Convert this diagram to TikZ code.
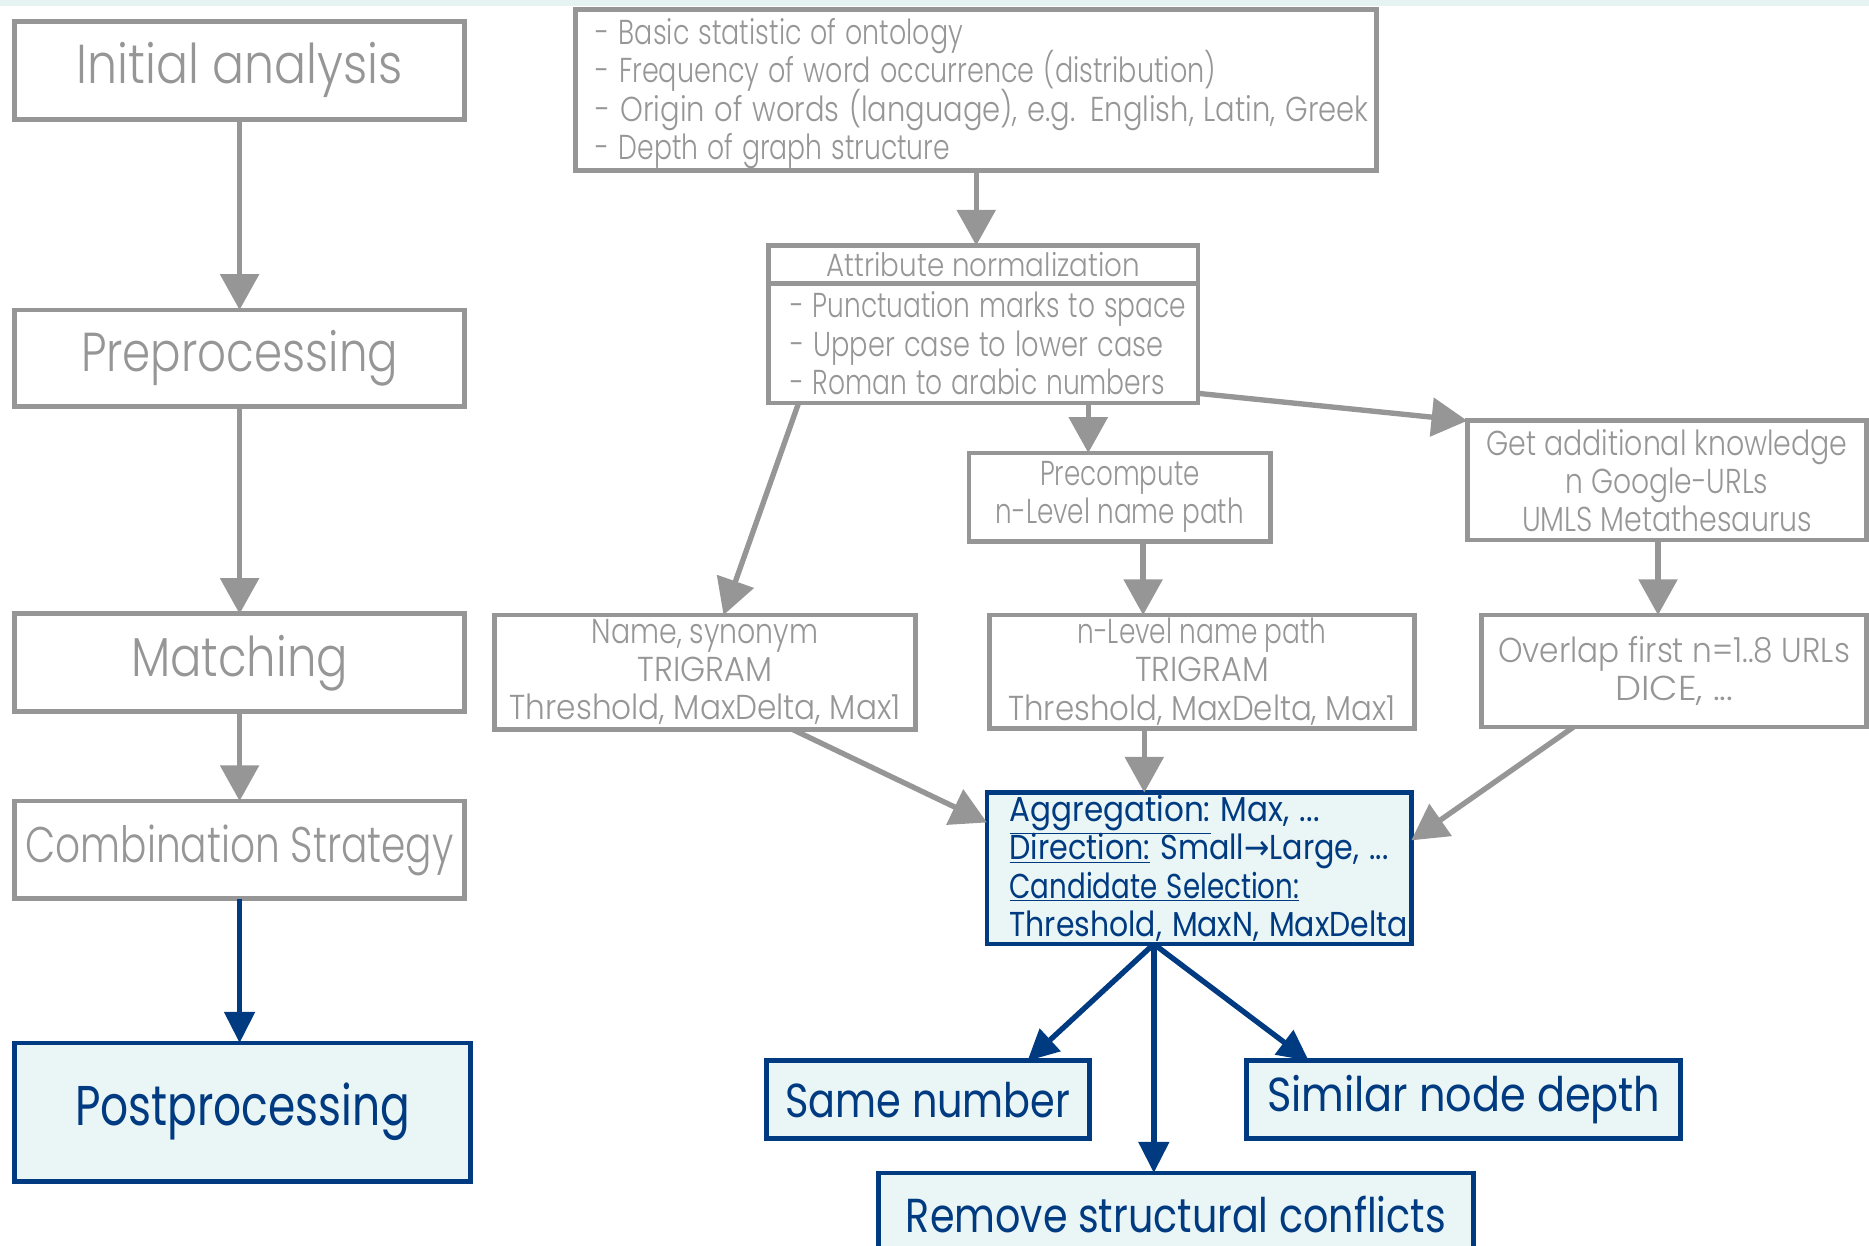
\documentclass[tikz,border=0pt]{standalone}
\usepackage{fontspec}
\setmainfont{Poppins}
\newfontfamily\lt{Poppins}[UprightFont=* Light]
\newfontfamily\djv{DejaVu Sans}
\usetikzlibrary{arrows.meta}
\definecolor{gr}{HTML}{969696}
\definecolor{nb}{HTML}{003A80}
\definecolor{lf}{HTML}{EAF5F5}
\definecolor{band}{HTML}{E6F3F3}
\newcommand{\fw}[2]{\resizebox{#1}{\height}{#2}}
\newcommand{\tls}{\baselineskip=32pt\lineskiplimit=-30pt\relax}
\hbadness=10000 \hfuzz=100pt
\tikzset{
  gbox/.style={draw=gr, line width=4pt, text=gr, inner sep=0pt, outer sep=0pt, align=center},
  bbox/.style={draw=nb, line width=4pt, fill=lf, text=nb, inner sep=0pt, outer sep=0pt, align=center},
  garr/.style={draw=gr, line width=4.5pt, -{Triangle[length=30pt,width=32pt]}},
  barr/.style={draw=nb, line width=4.5pt, -{Triangle[length=26pt,width=25pt]}},
  big/.style={font=\lt\fontsize{46}{48}\selectfont},
  med/.style={font=\lt\fontsize{29}{32}\selectfont},
  bmed/.style={font=\fontsize{40}{44}\selectfont},
}
\begin{document}
\begin{tikzpicture}[x=1pt,y=-1pt]
\useasboundingbox (0,0) rectangle (1568,1045);
\clip (0,0) rectangle (1568,1045);
\fill[band] (0,0) rectangle (1568,5);
% left column
\node[gbox,big,minimum width=378pt,minimum height=82pt] (ia) at (201,59) {\fw{273pt}{Initial analysis}};
\node[gbox,big,minimum width=378pt,minimum height=81pt] (pp) at (201,300.5) {\fw{266pt}{Preprocessing}};
\node[gbox,big,minimum width=378pt,minimum height=82pt] (ma) at (201,556) {\fw{182pt}{Matching}};
\node[gbox,font=\lt\fontsize{42}{46}\selectfont,minimum width=378pt,minimum height=82pt] (cs) at (201,713) {\fw{359pt}{Combination Strategy}};
\node[bbox,font=\fontsize{47}{50}\selectfont,minimum width=383pt,minimum height=116pt] (po) at (203.5,933) {\fw{281pt}{Postprocessing}};
\draw[garr] (ia.south) -- (ia.south |- pp.north);
\draw[garr] (pp.south) -- (pp.south |- ma.north);
\draw[garr] (ma.south) -- (ma.south |- cs.north);
\draw[barr] (cs.south) -- (cs.south |- po.north);
% top box
\node[gbox,med,minimum width=672pt,minimum height=135pt,align=left,text width=638pt,inner xsep=17pt] (top) at (819,75.5)
 {\tls\rule{0pt}{28pt}\fw{308pt}{- Basic statistic of ontology}\\\fw{520pt}{- Frequency of word occurrence (distribution)}\\\fw{648pt}{- Origin of words (language), e.g. English, Latin, Greek}\\\fw{297pt}{- Depth of graph structure}};
% attribute normalization
\node[gbox,font=\lt\fontsize{27}{30}\selectfont,minimum width=360pt,minimum height=32pt] (anh) at (825,222) {\fw{263pt}{Attribute normalization}};
\node[gbox,med,minimum width=360pt,minimum height=100pt,align=left,text width=324pt,inner xsep=18pt] (an) at (825,288)
 {\tls\fw{332pt}{- Punctuation marks to space}\\\fw{313pt}{- Upper case to lower case}\\\fw{314pt}{- Roman to arabic numbers}};
\draw[garr] (top.south) -- (top.south |- anh.north);
% second level
\node[gbox,med,minimum width=253pt,minimum height=74pt] (pc) at (939.5,417) {\fw{134pt}{Precompute}\\\fw{208pt}{n-Level name path}};
\node[gbox,med,minimum width=335pt,minimum height=100pt] (get) at (1398.5,403) {\fw{303pt}{Get additional knowledge}\\\fw{170pt}{n Google-URLs}\\\fw{243pt}{UMLS Metathesaurus}};
\draw[garr] ([xshift=88pt]an.south) -- ([xshift=88pt]an.south |- pc.north);
\draw[garr] ([yshift=8pt]an.south east) -- (get.north west);
% third level
\node[gbox,med,minimum width=353pt,minimum height=96pt] (nm) at (591.5,564) {\fw{190pt}{Name, synonym}\\\fw{113pt}{TRIGRAM}\\\fw{328pt}{Threshold, MaxDelta, Max1}};
\node[gbox,med,minimum width=357pt,minimum height=95pt] (nl) at (1008.5,563.5) {\fw{209pt}{n-Level name path}\\\fw{112pt}{TRIGRAM}\\\fw{325pt}{Threshold, MaxDelta, Max1}};
\node[gbox,med,minimum width=323pt,minimum height=94pt] (ov) at (1404.5,563) {\fw{295pt}{Overlap first n=1..8 URLs}\\\fw{99pt}{DICE, ...}};
\draw[garr] ([xshift=25pt]an.south west) -- ([xshift=15.5pt]nm.north);
\draw[garr] ([xshift=19.5pt]pc.south) -- ([xshift=19.5pt]pc.south |- nl.north);
\draw[garr] ([xshift=-7.5pt]get.south) -- ([xshift=-7.5pt]get.south |- ov.north);
% aggregation
\node[bbox,font=\fontsize{29}{32}\selectfont,minimum width=356pt,minimum height=127pt,align=left,text width=318pt,inner xsep=19pt] (ag) at (1006,728.5)
 {\tls\fw{260pt}{\underline{Aggregation:} Max, ...}\\\fw{318pt}{\underline{Direction:} Small{\djv →}Large, ...}\\\fw{243pt}{\underline{Candidate Selection:}}\\\fw{334pt}{Threshold, MaxN, MaxDelta}};
\draw[garr] ([xshift=73.5pt]nm.south) -- ([yshift=-25pt]ag.north west);
\draw[garr] ([xshift=-48.5pt]nl.south) -- ([xshift=-48.5pt]nl.south |- ag.north);
\draw[garr] ([xshift=-84.5pt]ov.south) -- ([yshift=-40pt]ag.north east);
% bottom
\node[bbox,bmed,minimum width=271pt,minimum height=65pt] (sn) at (778.5,922.5) {\fw{239pt}{Same number}};
\node[bbox,bmed,minimum width=364pt,minimum height=65pt] (sd) at (1228,922.5) {\fw{330pt}{Similar node depth}};
\node[bbox,bmed,minimum width=499pt,minimum height=70pt] (rm) at (986.5,1019) {\fw{453pt}{Remove structural conflicts}};
\draw[barr] ([xshift=-38pt]ag.south) -- ([xshift=83.5pt]sn.north);
\draw[barr] ([xshift=-38pt]ag.south) -- ([xshift=-18.5pt]rm.north);
\draw[barr] ([xshift=-38pt]ag.south) -- ([xshift=-130pt]sd.north);
\end{tikzpicture}
\end{document}
